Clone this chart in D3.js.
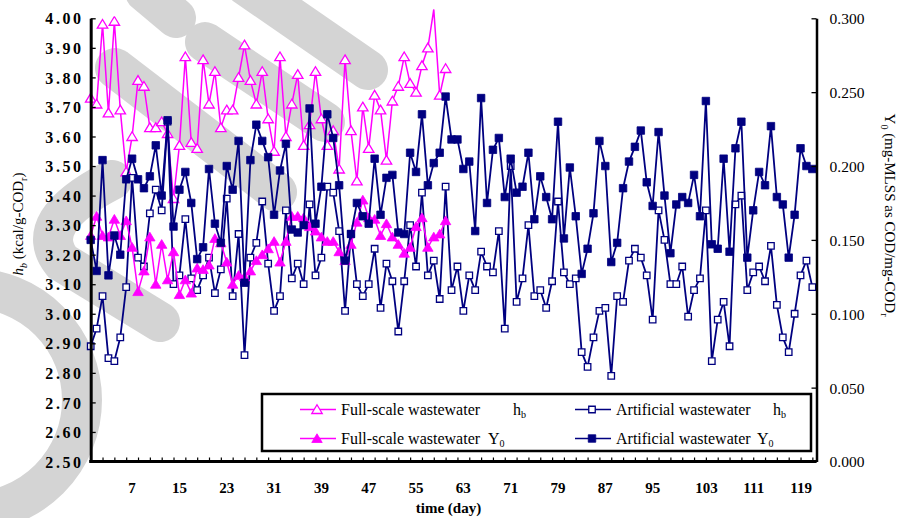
<!DOCTYPE html>
<html>
<head>
<meta charset="utf-8">
<script src="https://cdn.jsdelivr.net/npm/d3@7"></script>
<style>
	body { margin: 0; background: #fff; }
	text { font-family: "Liberation Serif", "Times New Roman", serif; fill: #000; }
</style>
</head>
<body>
<script>
// Values, one per day starting at day 0
const fullHb = [3.73, 3.71, 3.98, 3.68, 3.99, 3.69, 3.48, 3.60, 3.79, 3.77,
	3.63, 3.63, 3.65, 3.61, 3.39, 3.57, 3.87, 3.58, 3.56, 3.86,
	3.71, 3.82, 3.63, 3.69, 3.69, 3.80, 3.91, 3.79, 3.71, 3.82,
	3.66, 3.55, 3.87, 3.60, 3.71, 3.81, 3.57, 3.64, 3.82, 3.66,
	3.57, 3.62, 3.49, 3.86, 3.62, 3.45, 3.70, 3.56, 3.74, 3.69,
	3.52, 3.72, 3.77, 3.87, 3.78, 3.75, 3.84, 3.90, 4.03, 3.74, 3.83];

const fullY0 = [0.153, 0.166, 0.153, 0.152, 0.164, 0.153, 0.163, 0.145, 0.115, 0.129,
	0.152, 0.120, 0.147, 0.123, 0.142, 0.113, 0.123, 0.114, 0.131, 0.130,
	0.133, 0.151, 0.148, 0.135, 0.120, 0.126, 0.125, 0.129, 0.136, 0.140,
	0.144, 0.149, 0.135, 0.149, 0.166, 0.166, 0.165, 0.159, 0.156, 0.152,
	0.149, 0.149, 0.142, 0.136, 0.147, 0.162, 0.177, 0.165, 0.164, 0.153,
	0.161, 0.152, 0.147, 0.141, 0.145, 0.159, 0.165, 0.145, 0.152, 0.154, 0.163];

const artHb = [2.89, 2.95, 3.06, 2.85, 2.84, 2.92, 3.09, 3.46, 3.19, 3.16,
	3.34, 3.42, 3.35, 3.65, 3.10, 3.13, 3.32, 3.12, 3.08, 3.13,
	3.19, 3.07, 3.15, 3.39, 3.06, 3.27, 2.86, 3.19, 3.24, 3.38,
	3.17, 3.01, 3.06, 3.35, 3.12, 3.17, 3.10, 3.37, 3.13, 3.19,
	3.43, 3.41, 3.28, 3.01, 3.27, 3.10, 3.06, 3.10, 3.22, 3.02,
	3.17, 3.11, 2.94, 3.11, 3.30, 3.16, 3.41, 3.13, 3.18, 3.05,
	3.43, 3.08, 3.16, 3.01, 3.13, 3.08, 3.21, 3.16, 3.14, 3.28,
	2.95, 3.50, 3.04, 3.12, 3.30, 3.06, 3.08, 3.02, 3.11, 3.38,
	3.14, 3.10, 3.12, 2.87, 2.82, 2.92, 3.01, 3.02, 2.79, 3.06,
	3.04, 3.18, 3.22, 3.19, 3.13, 2.98, 3.35, 3.25, 3.10, 3.10,
	3.16, 2.99, 3.08, 3.12, 3.35, 2.84, 2.98, 3.04, 2.89, 3.37,
	3.40, 3.08, 3.14, 3.16, 3.11, 3.23, 3.03, 2.92, 2.87, 3.00,
	3.13, 3.18, 3.09];

const artY0 = [0.150, 0.129, 0.204, 0.126, 0.153, 0.140, 0.191, 0.205, 0.191, 0.185,
	0.193, 0.214, 0.180, 0.231, 0.159, 0.184, 0.196, 0.175, 0.137, 0.145,
	0.198, 0.161, 0.148, 0.200, 0.184, 0.217, 0.121, 0.204, 0.228, 0.217,
	0.206, 0.167, 0.197, 0.215, 0.157, 0.155, 0.160, 0.239, 0.161, 0.186,
	0.235, 0.219, 0.187, 0.136, 0.154, 0.175, 0.166, 0.161, 0.205, 0.167,
	0.192, 0.194, 0.155, 0.154, 0.209, 0.196, 0.235, 0.187, 0.202, 0.209,
	0.247, 0.218, 0.218, 0.198, 0.203, 0.156, 0.246, 0.175, 0.211, 0.219,
	0.179, 0.205, 0.182, 0.186, 0.209, 0.164, 0.193, 0.179, 0.164, 0.230,
	0.151, 0.199, 0.166, 0.127, 0.144, 0.168, 0.217, 0.200, 0.135, 0.148,
	0.185, 0.203, 0.213, 0.224, 0.189, 0.173, 0.223, 0.180, 0.141, 0.174,
	0.179, 0.175, 0.194, 0.166, 0.244, 0.147, 0.144, 0.205, 0.142, 0.212,
	0.230, 0.138, 0.170, 0.196, 0.187, 0.227, 0.179, 0.174, 0.138, 0.167,
	0.212, 0.200, 0.198];

// Tick labels
const hbTicks = [2.50, 2.60, 2.70, 2.80, 2.90, 3.00, 3.10, 3.20, 3.30, 3.40, 3.50, 3.60, 3.70, 3.80, 3.90, 4.00];
const y0Ticks = [0.000, 0.050, 0.100, 0.150, 0.200, 0.250, 0.300];
const dayLabels = [7, 15, 23, 31, 39, 47, 55, 63, 71, 79, 87, 95, 103, 111, 119];
const dayTicks = [2, 4, 6, 8, 10, 12, 14, 16, 18, 20, 22, 24, 26, 28, 30, 32, 34, 36, 38, 40,
	42, 44, 46, 48, 50, 52, 54, 56, 58, 60, 62, 64, 66, 68, 70, 72, 74, 76, 78, 80,
	82, 84, 86, 88, 90, 92, 94, 96, 98, 100, 102, 104, 106, 108, 110, 112, 114, 116, 118, 120, 122];

const MAGENTA = "#ff00ff";
const NAVY = "#000080";

// Plot frame
const plotLeft = 90.7, plotRight = 816.5, plotTop = 18.3, plotBottom = 461.5;

let svg = d3.select("body")
			.append("svg")
			.attr("width", 899)
			.attr("height", 518);

let x = d3.scaleLinear().domain([0, 122.7]).range([plotLeft, plotRight]);
let yL = d3.scaleLinear().domain([2.5, 4.0]).range([plotBottom, plotTop]);
let yR = d3.scaleLinear().domain([0, 0.3]).range([plotBottom, plotTop]);

// Marker shapes
function tri(s) {
	return "M0," + (-s * 0.5) + "L" + (s * 0.55) + "," + (s * 0.42) + "L" + (-s * 0.55) + "," + (s * 0.42) + "Z";
}
function sq(s) {
	let h = s / 2;
	return "M" + (-h) + "," + (-h) + "h" + s + "v" + s + "h" + (-s) + "Z";
}

// Grey background marks seen behind the chart
let wm = svg.append("g")
			.attr("fill", "none")
			.attr("stroke", "#d4d4d4")
			.attr("stroke-width", 40)
			.attr("stroke-linecap", "round");
wm.append("path").attr("d", "M145,-8L176,18");
wm.append("path").attr("d", "M245,-15L368,70");
wm.append("path").attr("d", "M205,42L325,122");
wm.append("path").attr("d", "M115,68L277,192");
wm.append("path").attr("d", "M112,180Q30,222 62,262L160,322");
wm.append("path").attr("d", "M-30,288A112,112 0 0 1 -30,512");

// Clip the markers to the plot area
svg.append("clipPath")
   .attr("id", "plotclip")
   .append("rect")
   .attr("x", 0).attr("y", plotTop - 2)
   .attr("width", 899).attr("height", 518);

/**
 * Draws one series: a polyline plus markers
 */
function drawSeries(values, scale, color, shape, filled, width) {
	let line = d3.line()
				 .x(function(d, i) { return x(i); })
				 .y(function(d) { return scale(d); });

	svg.append("path")
	   .datum(values)
	   .attr("d", line)
	   .attr("fill", "none")
	   .attr("stroke", color)
	   .attr("stroke-width", width)
	   .attr("stroke-linejoin", "miter");

	svg.append("g")
	   .attr("clip-path", "url(#plotclip)")
	   .selectAll("path")
	   .data(values)
	   .enter()
	   .append("path")
	   .attr("transform", function(d, i) { return "translate(" + x(i) + "," + scale(d) + ")"; })
	   .attr("d", shape)
	   .attr("fill", filled ? color : "#fff")
	   .attr("stroke", color)
	   .attr("stroke-width", filled ? 0.8 : 1.3);
}

drawSeries(fullHb, yL, MAGENTA, tri(9.5), false, 1.5);
drawSeries(artHb, yL, NAVY, sq(6.5), false, 1.8);
drawSeries(fullY0, yR, MAGENTA, tri(9.5), true, 1.5);
drawSeries(artY0, yR, NAVY, sq(7.5), true, 1.8);

// Left axis
let axL = svg.append("g")
			 .attr("transform", "translate(" + plotLeft + ",0)")
			 .call(d3.axisLeft(yL).tickValues(hbTicks).tickSizeInner(-5).tickSizeOuter(0).tickFormat(d3.format(".2f")));
axL.select(".domain").attr("stroke-width", 3);
axL.selectAll(".tick line").attr("stroke-width", 1.3);
axL.selectAll("text")
   .attr("x", -7)
   .attr("dy", "0.35em")
   .style("font-size", "16px")
   .style("font-weight", "bold")
   .style("letter-spacing", "2.6px")
   .style("font-family", "Liberation Serif");

// Right axis
let axR = svg.append("g")
			 .attr("transform", "translate(" + plotRight + ",0)")
			 .call(d3.axisRight(yR).tickValues(y0Ticks).tickSizeInner(-5).tickSizeOuter(0).tickFormat(d3.format(".3f")));
axR.select(".domain").attr("stroke-width", 2.5);
axR.selectAll(".tick line").attr("stroke-width", 1.3);
axR.selectAll("text")
   .attr("x", 13)
   .attr("dy", "0.35em")
   .style("font-size", "15.5px")
   .style("font-family", "Liberation Serif");

// Bottom axis, ticks every second day
let axB = svg.append("g")
			 .attr("transform", "translate(0," + plotBottom + ")")
			 .call(d3.axisBottom(x).tickValues(dayTicks).tickSizeInner(-4).tickSizeOuter(0).tickFormat(""));
axB.select(".domain").attr("stroke-width", 3).attr("d", "M" + (plotLeft - 1.5) + ",0H" + plotRight);
axB.selectAll(".tick line").attr("stroke-width", 1.2);

svg.append("g")
   .selectAll("text")
   .data(dayLabels)
   .enter()
   .append("text")
   .attr("x", function(d) { return x(d) + (d >= 100 ? 6.5 : 0); })
   .attr("y", 492.5)
   .attr("text-anchor", "middle")
   .style("font-size", "15px")
   .style("font-weight", "bold")
   .text(function(d) { return d; });

// Axis titles
svg.append("text")
   .attr("x", 448.5)
   .attr("y", 512.5)
   .attr("text-anchor", "middle")
   .style("font-size", "15px")
   .style("font-weight", "bold")
   .text("time (day)");

let tl = svg.append("text")
			.attr("transform", "translate(23,224) rotate(-90)")
			.attr("text-anchor", "middle")
			.style("font-size", "15px");
tl.append("tspan").style("font-style", "italic").text("h");
tl.append("tspan").style("font-style", "italic").style("font-size", "10px").attr("dy", 4).text("b");
tl.append("tspan").attr("dy", -4).text(" (kcal/g-COD");
tl.append("tspan").style("font-size", "10px").attr("dy", 4).text("r");
tl.append("tspan").attr("dy", -4).text(")");

let tr = svg.append("text")
			.attr("transform", "translate(885,215) rotate(90)")
			.attr("text-anchor", "middle")
			.style("font-size", "15px");
tr.append("tspan").text("Y");
tr.append("tspan").style("font-size", "10px").attr("dy", 4).text("0");
tr.append("tspan").attr("dy", -4).text(" (mg-MLSS as COD/mg-COD");
tr.append("tspan").style("font-size", "10px").attr("dy", 4).text("r");

// Legend
let legendItems = [
	{ label: "Full-scale wastewater", sym: "h", sub: "b", color: MAGENTA, shape: tri(9.5), filled: false, lx: 300, ly: 409.5, sx: 513 },
	{ label: "Full-scale wastewater", sym: "Y", sub: "0", color: MAGENTA, shape: tri(9.5), filled: true, lx: 300, ly: 438.5, sx: 488 },
	{ label: "Artificial wastewater", sym: "h", sub: "b", color: NAVY, shape: sq(6.5), filled: false, lx: 575, ly: 409.5, sx: 773 },
	{ label: "Artificial wastewater", sym: "Y", sub: "0", color: NAVY, shape: sq(7.5), filled: true, lx: 575, ly: 438.5, sx: 757 }
];

svg.append("rect")
   .attr("x", 262)
   .attr("y", 394)
   .attr("width", 549)
   .attr("height", 57)
   .attr("fill", "#fff")
   .attr("stroke", "#000")
   .attr("stroke-width", 2.5);

for (let i = 0; i < legendItems.length; ++i) {
	let it = legendItems[i];
	svg.append("line")
	   .attr("x1", it.lx).attr("x2", it.lx + 36)
	   .attr("y1", it.ly).attr("y2", it.ly)
	   .attr("stroke", it.color)
	   .attr("stroke-width", 1.6);
	svg.append("path")
	   .attr("transform", "translate(" + (it.lx + 17) + "," + it.ly + ")")
	   .attr("d", it.shape)
	   .attr("fill", it.filled ? it.color : "#fff")
	   .attr("stroke", it.color)
	   .attr("stroke-width", it.filled ? 0.8 : 1.3);
	svg.append("text")
	   .attr("x", it.lx + 41)
	   .attr("y", it.ly + 5)
	   .style("font-size", "16px")
	   .text(it.label);
	let s = svg.append("text")
			   .attr("x", it.sx)
			   .attr("y", it.ly + 5)
			   .style("font-size", "16px");
	s.append("tspan").text(it.sym);
	s.append("tspan").style("font-size", "10px").attr("dy", 3).text(it.sub);
}
</script>
</body>
</html>
